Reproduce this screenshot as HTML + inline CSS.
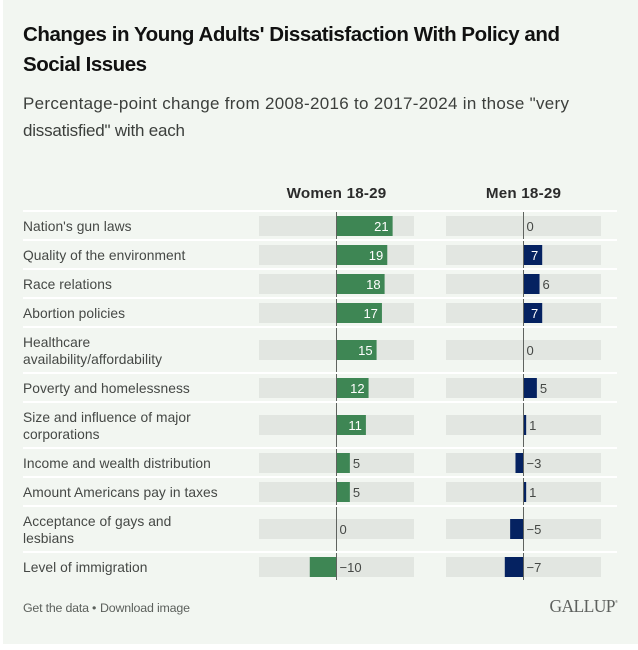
<!DOCTYPE html>
<html lang="en">
<head>
<meta charset="utf-8">
<title>Changes in Young Adults' Dissatisfaction</title>
<style>
html,body{margin:0;padding:0;background:#fff;}
body{width:638px;height:650px;overflow:hidden;font-family:"Liberation Sans",sans-serif;}
svg{display:block;}
.lab{font-size:13.8px;fill:#454845;letter-spacing:.05px;}
.val{font-size:13px;}
.hd{font-size:15.2px;font-weight:700;fill:#2b2b2b;text-anchor:middle;letter-spacing:.2px;}
.title{font-size:20.5px;font-weight:700;fill:#111;}
.sub{font-size:17px;fill:#3c3f3c;}
.foot{font-size:12.4px;fill:#5c605c;}
</style>
</head>
<body>
<svg id="chart" xmlns="http://www.w3.org/2000/svg" width="638" height="650" viewBox="0 0 638 650">
  <rect x="3" y="0" width="635" height="644" fill="#f2f6f1"/>
  <text class="title" x="23" y="41" textLength="537" lengthAdjust="spacing">Changes in Young Adults' Dissatisfaction With Policy and</text>
  <text class="title" x="23" y="71" textLength="124" lengthAdjust="spacing">Social Issues</text>
  <text class="sub" x="23" y="109" textLength="546" lengthAdjust="spacing">Percentage-point change from 2008-2016 to 2017-2024 in those "very</text>
  <text class="sub" x="23" y="136" textLength="162" lengthAdjust="spacing">dissatisfied" with each</text>
  <text class="hd" x="336.5" y="198">Women 18-29</text>
  <text class="hd" x="523.5" y="198">Men 18-29</text>
  <g id="rows"></g>
  <text class="foot" x="23" y="612" textLength="66" lengthAdjust="spacing">Get the data</text>
  <text class="foot" x="92" y="612">•</text>
  <text class="foot" x="100" y="612" textLength="90" lengthAdjust="spacing">Download image</text>
  <text x="549.5" y="612" font-family="'Liberation Serif',serif" font-size="17.5" fill="#5e615e" textLength="66" lengthAdjust="spacing">GALLUP</text>
  <text x="615" y="603" font-family="'Liberation Sans',sans-serif" font-size="4" fill="#5e615e">®</text>
</svg>
<script>
const categories = [
  ["Nation's gun laws"],
  ["Quality of the environment"],
  ["Race relations"],
  ["Abortion policies"],
  ["Healthcare", "availability/affordability"],
  ["Poverty and homelessness"],
  ["Size and influence of major", "corporations"],
  ["Income and wealth distribution"],
  ["Amount Americans pay in taxes"],
  ["Acceptance of gays and", "lesbians"],
  ["Level of immigration"]
];
const womenValues = [21, 19, 18, 17, 15, 12, 11, 5, 5, 0, -10];
const menValues = [0, 7, 6, 7, 0, 5, 1, -3, 1, -5, -7];

const NS = 'http://www.w3.org/2000/svg';
const root = document.getElementById('rows');
const PX_PER_POINT = 155 / 58;
const TRACK_W = 155;
const TRACK_H = 20;
const ROW_SINGLE = 29;
const ROW_DOUBLE = 46;
const TOP = 211;
const panels = [
  { key: 'women', zero: 336.5, color: '#3e8654', values: womenValues },
  { key: 'men', zero: 523.5, color: '#052261', values: menValues }
];
const scale = function (v, zero) { return zero + v * PX_PER_POINT; };

function make(tag, attrs, parent) {
  const el = document.createElementNS(NS, tag);
  for (const k in attrs) el.setAttribute(k, attrs[k]);
  parent.appendChild(el);
  return el;
}

const rowCenters = [];
const rowLines = [TOP];
let cursor = TOP;
categories.forEach(function (lines) {
  const h = lines.length > 1 ? ROW_DOUBLE : ROW_SINGLE;
  rowCenters.push(Math.floor(cursor + h / 2 + 0.5));
  cursor += h;
  rowLines.push(cursor);
});
rowLines.pop();

const layerTracks = make('g', {}, root);


const layerBars = make('g', {}, root);


const layerAxes = make('g', {}, root);


const layerLines = make('g', {}, root);


const layerText = make('g', {}, root);



panels.forEach(function (p) {
  const axis = make('line', { x1: p.zero, x2: p.zero, y1: 212, y2: 580, stroke: '#5f635f', 'stroke-width': 1 }, layerAxes);
  
  
});

rowLines.forEach(function (y) {
  const sep = make('rect', { x: 23, y: y - 1, width: 594, height: 2, fill: '#ffffff' }, layerLines);
  
  
});

categories.forEach(function (lines, i) {
  const cy = rowCenters[i];
  lines.forEach(function (line, j) {
    const y = Math.ceil(cy + 5 + (j - (lines.length - 1) / 2) * 17);
    const t = make('text', { class: 'lab', x: 23, y: y }, layerText);
    t.textContent = line;
    
    
  });
  panels.forEach(function (p) {
    const v = p.values[i];
    const track = make('rect', { x: p.zero - TRACK_W / 2, y: cy - TRACK_H / 2, width: TRACK_W, height: TRACK_H, fill: '#e2e6e1' }, layerTracks);
    
    
    const end = scale(v, p.zero);
    const bar = make('rect', { x: Math.min(end, p.zero), y: cy - TRACK_H / 2, width: Math.abs(end - p.zero), height: TRACK_H, fill: p.color }, layerBars);
    
    
    const inside = v >= 7;
    const tx = inside ? end - 4 : Math.max(end, p.zero) + 3;
    const label = make('text', { class: 'val', x: tx, y: cy + 5, fill: inside ? '#ffffff' : '#454845', 'text-anchor': inside ? 'end' : 'start' }, layerText);
    label.textContent = String(v).replace('-', '\u2212');
    
    
  });
});
</script>
</body>
</html>
